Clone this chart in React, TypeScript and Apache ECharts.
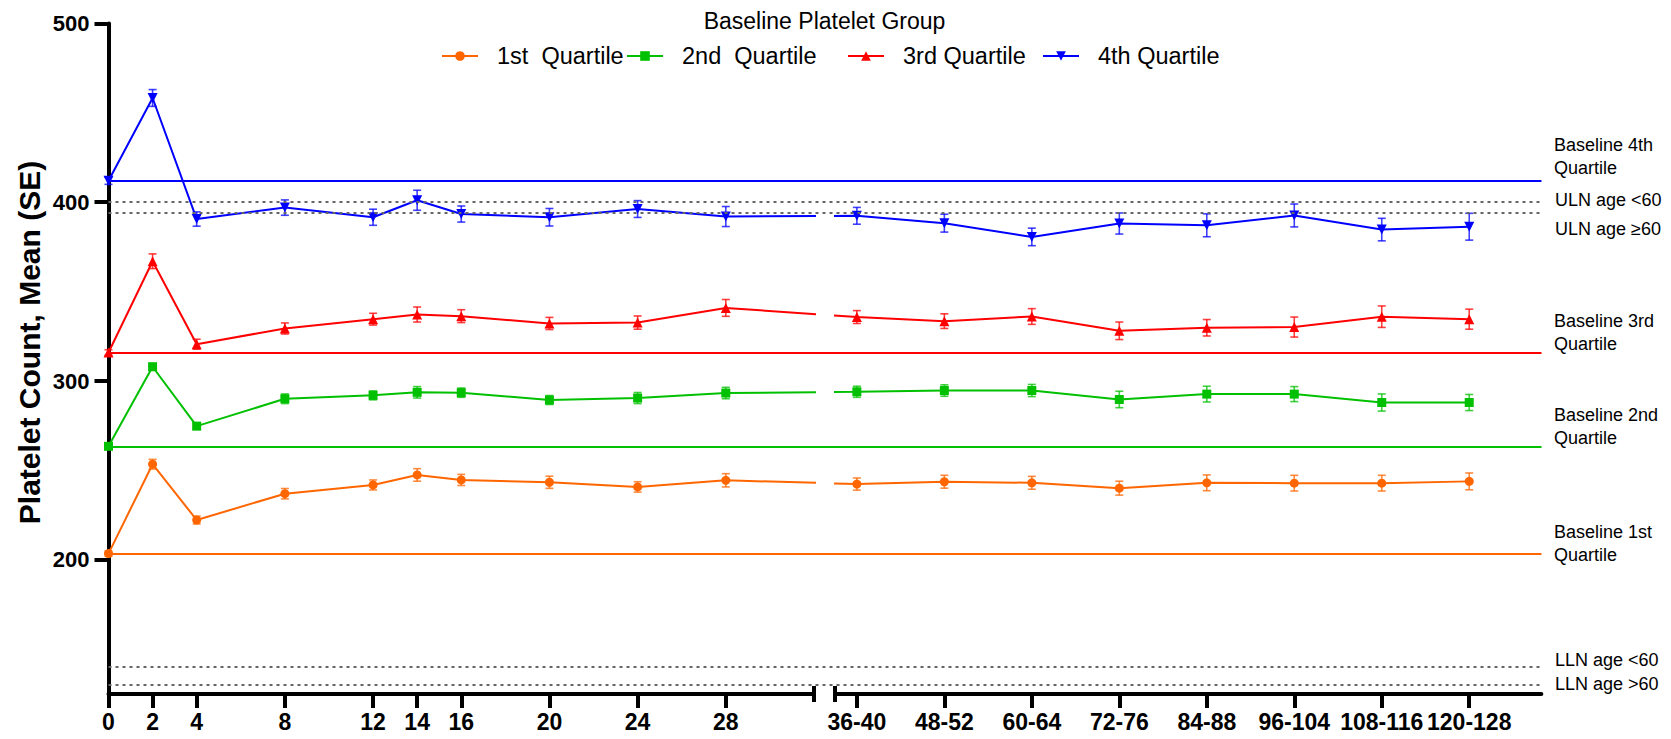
import React, { useEffect, useRef } from 'react';
import * as echarts from 'echarts';

// ---------- DATA ----------
const xLabels = ['0', '2', '4', '8', '12', '14', '16', '20', '24', '28', '36-40', '48-52', '60-64', '72-76', '84-88', '96-104', '108-116', '120-128'];

const q1Mean = [203.5, 253.5, 222.3, 237.0, 241.9, 247.5, 244.7, 243.4, 240.8, 244.5, 242.4, 243.7, 243.1, 240.1, 243.1, 242.9, 242.9, 243.9];
const q1SE = [1.5, 2.7, 2.2, 2.9, 2.8, 3.5, 3.1, 3.4, 2.9, 3.7, 3.4, 3.6, 3.6, 3.9, 4.4, 4.4, 4.4, 4.7];
const q2Mean = [263.5, 308.0, 274.8, 290.1, 292.0, 293.7, 293.5, 289.4, 290.5, 293.3, 294.0, 294.7, 294.7, 289.7, 292.7, 292.7, 288.0, 288.0];
const q2SE = [1.5, 1.8, 1.8, 2.7, 2.5, 3.2, 2.6, 2.5, 3.1, 3.2, 3.1, 3.2, 3.4, 4.6, 4.4, 4.2, 4.8, 4.5];
const q3Mean = [316.0, 367.0, 320.6, 329.4, 334.6, 337.2, 336.3, 332.2, 332.7, 340.9, 335.8, 333.5, 336.1, 328.1, 329.8, 330.2, 336.0, 334.6];
const q3SE = [1.5, 4.1, 2.8, 3.1, 3.3, 4.2, 3.6, 3.4, 3.7, 4.7, 3.6, 4.1, 4.4, 4.9, 4.6, 5.6, 6.0, 5.6];
const q4Mean = [412.0, 458.3, 390.6, 397.0, 391.6, 401.1, 393.4, 391.6, 396.2, 392.0, 392.4, 388.3, 380.6, 388.1, 387.1, 392.6, 384.7, 386.3];
const q4SE = [2.0, 4.7, 4.0, 4.3, 4.5, 5.6, 4.5, 4.9, 4.7, 5.6, 4.7, 5.0, 4.9, 5.9, 6.4, 6.4, 6.3, 7.5];

const seriesNames = ['1st  Quartile', '2nd  Quartile', '3rd Quartile', '4th Quartile'];

const baselineValues = [203.5, 263.5, 316, 412];
const baselineLabels = ['Baseline 1st\nQuartile', 'Baseline 2nd\nQuartile', 'Baseline 3rd\nQuartile', 'Baseline 4th\nQuartile'];
const limitValues = [400, 394, 140, 130];
const limitLabels = ['ULN age <60', 'ULN age \u226560', 'LLN age <60', 'LLN age >60'];

const yTicks = [200, 300, 400, 500];

// ---------- LAYOUT / STYLE ----------
const FONT = "'Liberation Sans', Arial, Helvetica, sans-serif";
const Y_MIN = 125;
const Y_MAX = 500;
const SEG1_MAX = 32; // end of first axis segment (weeks)
const SEG2_MIN = 33; // start of second axis segment
const SEG2_MAX = 65.3;
const SEG2_FIRST = 34;
const SEG2_STEP = 4;

const firstRange = xLabels.findIndex((l) => l.includes('-'));
const xPos = xLabels.map((l, i) => (i < firstRange ? Number(l) : SEG2_FIRST + SEG2_STEP * (i - firstRange)));
const labelOf: Record<string, string> = {};
xPos.forEach((p, i) => (labelOf[String(p)] = xLabels[i]));
const seg1Ticks = xPos.filter((p) => p <= SEG1_MAX);
const seg2Ticks = xPos.filter((p) => p >= SEG2_MIN);

const colors = ['#FF6600', '#00C000', '#FF0000', '#0000FF'];
const symbols = ['circle', 'rect', 'triangle', 'triangle'];
const symbolSizes = [9, 9, 10, 10];
const symbolRotates = [0, 0, 0, 180];
const means = [q1Mean, q2Mean, q3Mean, q4Mean];
const ses = [q1SE, q2SE, q3SE, q4SE];

const legendLefts = [441, 626, 847, 1042];
const baselineLabelTops = [520, 403, 309, 133];
const limitLabelTops = [188, 217, 648, 672];

const GRID_TOP = 23.4;
const GRID_H = 670.6;

function buildOption(): any {
  const series: any[] = [];

  // reference lines on a full-width overlay grid
  series.push({
    type: 'line',
    xAxisIndex: 2,
    yAxisIndex: 2,
    data: [],
    silent: true,
    markLine: {
      silent: true,
      symbol: ['none', 'none'],
      label: { show: false },
      emphasis: { disabled: true },
      data: [
        ...baselineValues.map((v, k) => ({ yAxis: v, lineStyle: { color: colors[k], width: 2, type: 'solid' } })),
        ...limitValues.map((v) => ({ yAxis: v, lineStyle: { color: '#666666', width: 2, type: [3, 4] } })),
      ],
    },
  });

  for (let k = 0; k < 4; k++) {
    for (let g = 0; g < 2; g++) {
      series.push({
        type: 'line',
        name: seriesNames[k],
        xAxisIndex: g,
        yAxisIndex: g,
        data: xPos.map((x, i) => [x, means[k][i]]),
        clip: true,
        symbol: symbols[k],
        symbolSize: symbolSizes[k],
        symbolRotate: symbolRotates[k],
        showAllSymbol: true,
        itemStyle: { color: colors[k] },
        lineStyle: { color: colors[k], width: 2 },
        emphasis: { disabled: true },
        z: 4,
      });
      const inSeg = (x: number) => (g === 0 ? x <= SEG1_MAX : x >= SEG2_MIN);
      const errData = xPos
        .map((x, i) => [x, means[k][i] - ses[k][i], means[k][i] + ses[k][i]])
        .filter((d) => inSeg(d[0]));
      const col = colors[k];
      series.push({
        type: 'custom',
        xAxisIndex: g,
        yAxisIndex: g,
        data: errData,
        silent: true,
        clip: false,
        z: 3,
        encode: { x: 0, y: [1, 2] },
        renderItem: (params: any, api: any) => {
          const x = api.value(0);
          const lo = api.coord([x, api.value(1)]);
          const hi = api.coord([x, api.value(2)]);
          const hw = 4;
          const st = { stroke: col, lineWidth: 1.6, opacity: 0.75 };
          return {
            type: 'group',
            children: [
              { type: 'line', shape: { x1: hi[0], y1: hi[1], x2: lo[0], y2: lo[1] }, style: st },
              { type: 'line', shape: { x1: hi[0] - hw, y1: hi[1], x2: hi[0] + hw, y2: hi[1] }, style: st },
              { type: 'line', shape: { x1: lo[0] - hw, y1: lo[1], x2: lo[0] + hw, y2: lo[1] }, style: st },
            ],
          };
        },
      });
    }
  }

  // axis break caps
  [[0, SEG1_MAX], [1, SEG2_MIN]].forEach(([g, x]) => {
    series.push({
      type: 'custom',
      xAxisIndex: g,
      yAxisIndex: g,
      data: [[x, Y_MIN]],
      silent: true,
      clip: false,
      z: 5,
      renderItem: (params: any, api: any) => {
        const c = api.coord([api.value(0), api.value(1)]);
        return { type: 'line', shape: { x1: c[0], y1: c[1] - 8, x2: c[0], y2: c[1] + 8 }, style: { stroke: '#000', lineWidth: 4 } };
      },
    });
  });

  const axisLineStyle = { color: '#000', width: 4 };
  const xLabelStyle = {
    fontSize: 23,
    fontWeight: 'bold',
    fontFamily: FONT,
    color: '#000',
    margin: 16,
    formatter: (v: number) => labelOf[String(v)] ?? '',
  };

  const graphic: any[] = [
    {
      type: 'text',
      x: 824.5,
      y: 20.5,
      style: { text: 'Baseline Platelet Group', font: `23px ${FONT}`, fill: '#000', align: 'center', verticalAlign: 'middle' },
    },
    {
      type: 'text',
      x: 29,
      y: 342.5,
      rotation: Math.PI / 2,
      style: { text: 'Platelet Count, Mean (SE)', font: `bold 30px ${FONT}`, fill: '#000', align: 'center', verticalAlign: 'middle' },
    },
    ...baselineLabels.map((t, k) => ({
      type: 'text',
      x: 1554,
      y: baselineLabelTops[k],
      style: { text: t, font: `18px ${FONT}`, fill: '#000', lineHeight: 23, verticalAlign: 'top' },
    })),
    ...limitLabels.map((t, k) => ({
      type: 'text',
      x: 1555,
      y: limitLabelTops[k],
      style: { text: t, font: `18px ${FONT}`, fill: '#000', lineHeight: 23, verticalAlign: 'top' },
    })),
  ];

  return {
    animation: false,
    backgroundColor: '#ffffff',
    textStyle: { fontFamily: FONT },
    grid: [
      { left: 108.5, top: GRID_TOP, width: 705.5, height: GRID_H, outerBoundsMode: 'none', containLabel: false },
      { left: 835, top: GRID_TOP, width: 706.4, height: GRID_H, outerBoundsMode: 'none', containLabel: false },
      { left: 108.5, top: GRID_TOP, width: 1433, height: GRID_H, outerBoundsMode: 'none', containLabel: false },
    ],
    xAxis: [
      {
        type: 'value',
        gridIndex: 0,
        min: 0,
        max: SEG1_MAX,
        axisLine: { show: true, onZero: false, lineStyle: axisLineStyle },
        axisTick: { show: true, customValues: seg1Ticks, length: 14, lineStyle: axisLineStyle },
        axisLabel: { ...xLabelStyle, customValues: seg1Ticks },
        splitLine: { show: false },
      },
      {
        type: 'value',
        gridIndex: 1,
        min: SEG2_MIN,
        max: SEG2_MAX,
        axisLine: { show: true, onZero: false, lineStyle: axisLineStyle },
        axisTick: { show: true, customValues: seg2Ticks, length: 14, lineStyle: axisLineStyle },
        axisLabel: { ...xLabelStyle, customValues: seg2Ticks },
        splitLine: { show: false },
      },
      { type: 'value', gridIndex: 2, min: 0, max: 1, show: false },
    ],
    yAxis: [
      {
        type: 'value',
        gridIndex: 0,
        min: Y_MIN,
        max: Y_MAX,
        axisLine: { show: true, onZero: false, lineStyle: axisLineStyle },
        axisTick: { show: true, customValues: yTicks, length: 14, lineStyle: axisLineStyle },
        axisLabel: { customValues: yTicks, fontSize: 22, fontWeight: 'bold', fontFamily: FONT, color: '#000', margin: 19 },
        splitLine: { show: false },
      },
      { type: 'value', gridIndex: 1, min: Y_MIN, max: Y_MAX, show: false },
      { type: 'value', gridIndex: 2, min: Y_MIN, max: Y_MAX, show: false },
    ],
    legend: seriesNames.map((n, k) => ({
      data: [n],
      left: legendLefts[k],
      top: 44,
      padding: 0,
      itemWidth: 36,
      itemHeight: 12,
      selectedMode: false,
      textStyle: { fontSize: 23.5, color: '#000', fontFamily: FONT, padding: [0, 0, 0, 14] },
    })),
    graphic,
    series,
  };
}

export default function App() {
  const ref = useRef<HTMLDivElement>(null);
  useEffect(() => {
    if (!ref.current) return;
    const chart = echarts.init(ref.current, undefined, { renderer: 'svg' });
    chart.setOption(buildOption());
    return () => chart.dispose();
  }, []);
  return (
    <div
      ref={ref}
      style={{ position: 'fixed', left: 0, top: 0, width: 1671, height: 739, background: '#fff' }}
    />
  );
}
